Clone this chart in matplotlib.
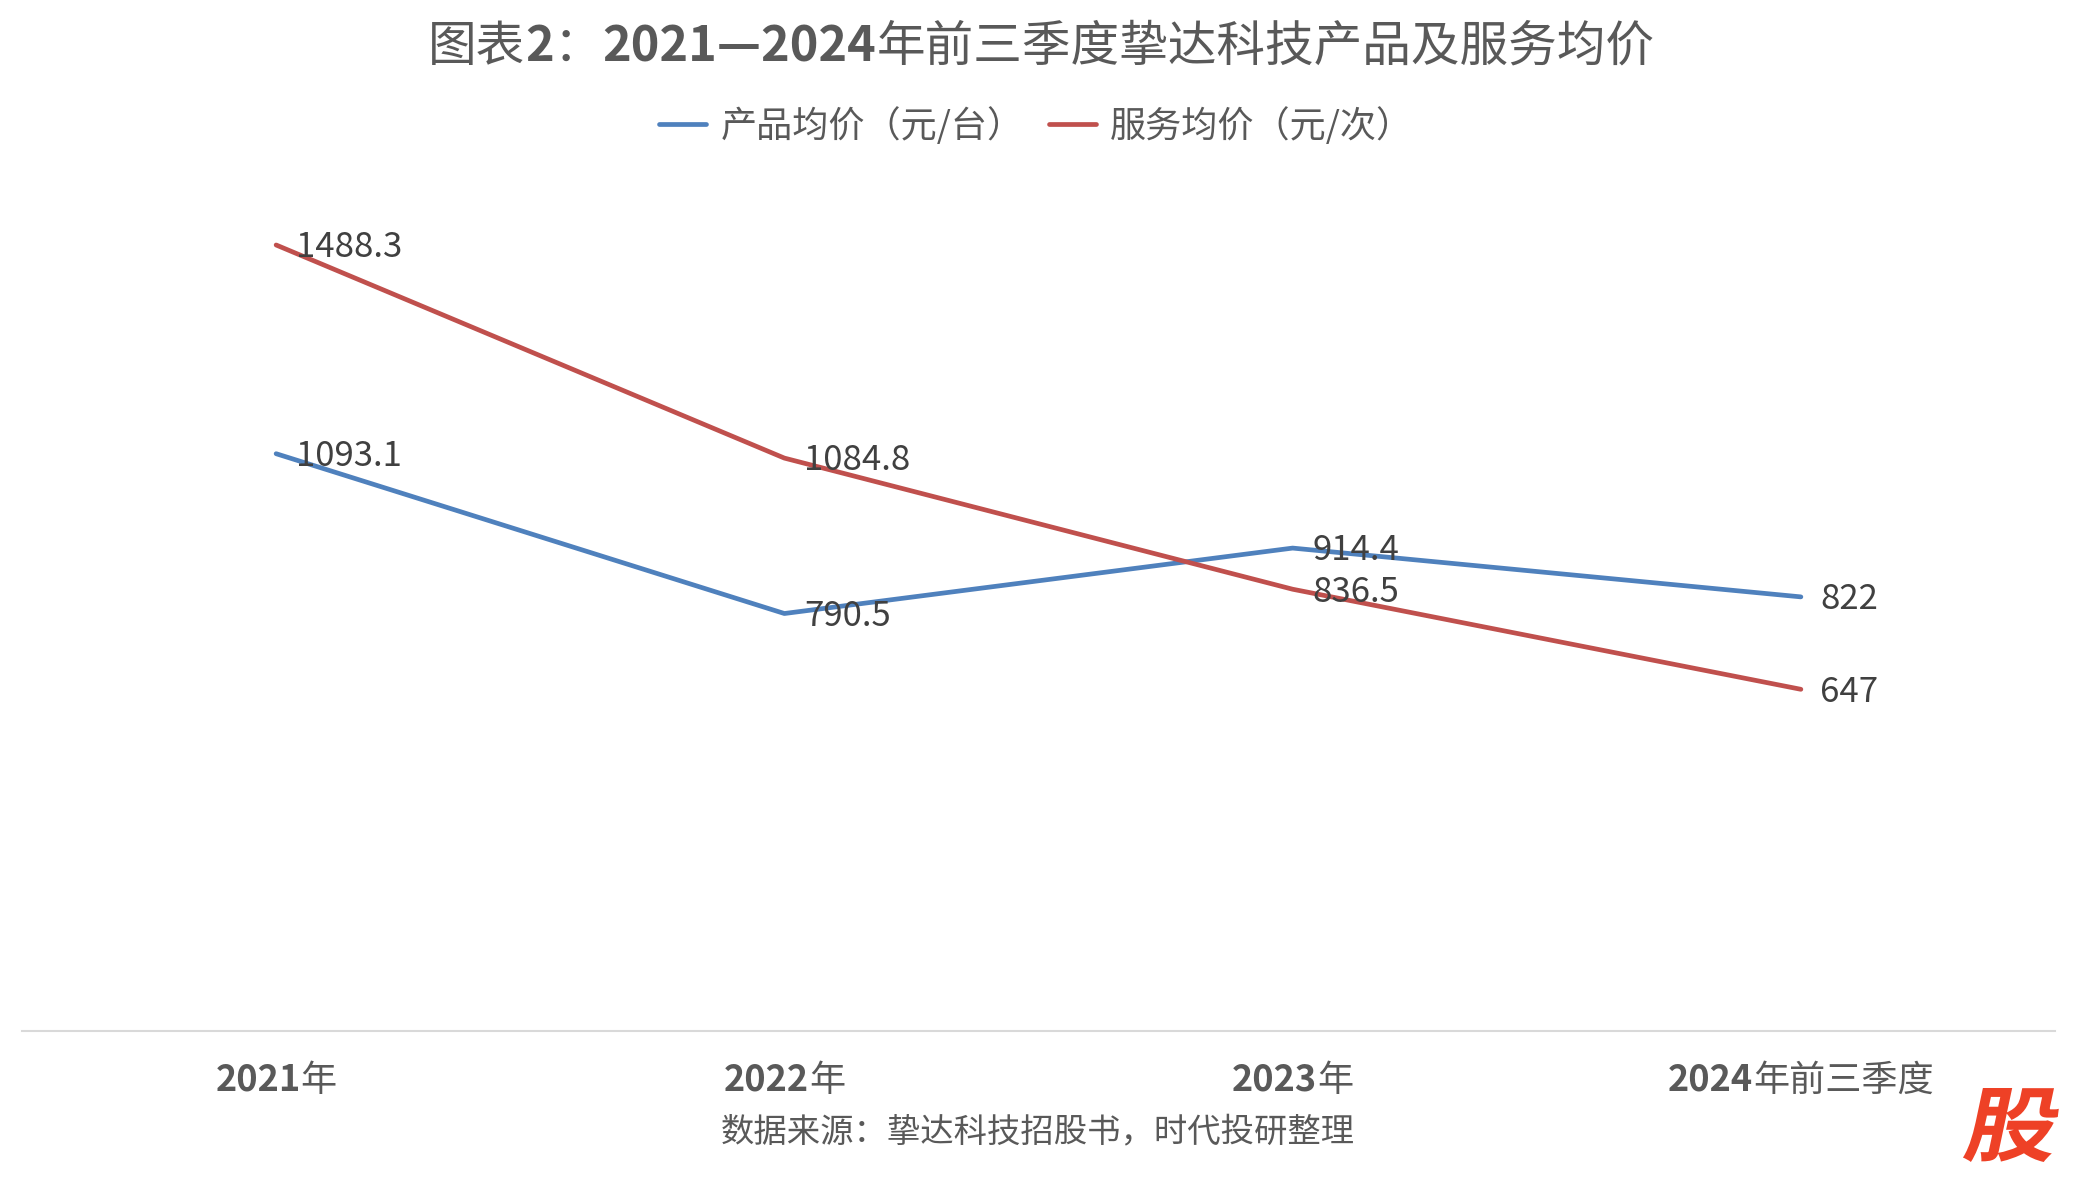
import matplotlib.pyplot as plt
import matplotlib.transforms as mtransforms
from matplotlib.offsetbox import TextArea, HPacker, AnnotationBbox
from matplotlib.textpath import TextPath
from matplotlib.patches import PathPatch
from matplotlib.font_manager import FontProperties

plt.rcParams['font.family'] = ['Noto Sans CJK SC', 'DejaVu Sans']

# données
periodes = ["2021", "2022", "2023", "2024"]
suffixes = ["年", "年", "年", "年前三季度"]
prix_produit = [1093.1, 790.5, 914.4, 822]
prix_service = [1488.3, 1084.8, 836.5, 647]
etiq_produit = ["1093.1", "790.5", "914.4", "822"]
etiq_service = ["1488.3", "1084.8", "836.5", "647"]
nom_produit = "产品均价（元/台）"
nom_service = "服务均价（元/次）"
titre = [("图表", "normal"), ("2", "bold"), ("：", "normal"),
         ("2021—2024", "bold"), ("年前三季度挚达科技产品及服务均价", "normal")]
source = "数据来源：挚达科技招股书，时代投研整理"

BLEU = "#4f81bd"
ROUGE = "#c0504d"
GRIS = "#595959"


def texte_mixte(parent, morceaux, xy, coords, taille, couleur):
    '''assemble des morceaux de texte de graisses differentes'''
    boites = [TextArea(s, textprops=dict(fontsize=taille, color=couleur, fontweight=w))
              for s, w in morceaux]
    pack = HPacker(children=boites, pad=0, sep=0, align="baseline")
    ab = AnnotationBbox(pack, xy, xycoords=coords, frameon=False,
                        box_alignment=(0.5, 0.5), pad=0)
    parent.add_artist(ab)


fig = plt.figure(figsize=(20.79, 11.8), dpi=100)
ax = fig.add_axes([22 / 2079, 1 - 1031 / 1180, (2055 - 22) / 2079, (1031 - 186) / 1180])

x = list(range(len(periodes)))
ax.plot(x, prix_produit, color=BLEU, lw=3.4, label=nom_produit, solid_capstyle="round")
ax.plot(x, prix_service, color=ROUGE, lw=3.4, label=nom_service, solid_capstyle="round")

for xi, v, t in zip(x, prix_produit, etiq_produit):
    ax.annotate(t, (xi, v), xytext=(14, -2), textcoords="offset points",
                ha="left", va="center", fontsize=25, color="#404040")
for xi, v, t in zip(x, prix_service, etiq_service):
    ax.annotate(t, (xi, v), xytext=(14, -2), textcoords="offset points",
                ha="left", va="center", fontsize=25, color="#404040")

ax.set_xlim(-0.5, 3.5)
ax.set_ylim(0, 1600)
ax.set_yticks([])
ax.set_xticks(x)
ax.set_xticklabels([])
ax.tick_params(axis="x", length=0)
for cote in ["top", "left", "right"]:
    ax.spines[cote].set_visible(False)
ax.spines["bottom"].set_color("#d9d9d9")
ax.spines["bottom"].set_linewidth(1.5)

# etiquettes de l'axe x
trans = mtransforms.blended_transform_factory(ax.transData, fig.transFigure)
for xi, p, s in zip(x, periodes, suffixes):
    texte_mixte(ax, [(p, "bold"), (s, "normal")], (xi, 1 - 1080 / 1180), trans, 26, GRIS)

# titre
texte_mixte(fig, titre, (1041 / 2079, 1 - 47 / 1180), fig.transFigure, 35, GRIS)

fig.legend(loc="center", bbox_to_anchor=(1036 / 2079, 1 - 126 / 1180), ncol=2,
           frameon=False, fontsize=26, labelcolor=GRIS, handlelength=1.3,
           handletextpad=0.4, columnspacing=0.7)

fig.text(1038 / 2079, 1 - 1132 / 1180, source, ha="center", va="center",
         fontsize=24, color=GRIS)

# logo penche en bas a droite
tp = TextPath((0, 0), "股", size=100,
              prop=FontProperties(family="Noto Sans CJK SC", weight="bold"))
bb = tp.get_extents()
tr = (mtransforms.Affine2D().translate(-bb.x0, -bb.y0)
      .scale(88 / bb.width, 74 / bb.height).skew_deg(12, 0)
      .translate(1962, 1180 - 1162))
fig.add_artist(PathPatch(tr.transform_path(tp), transform=mtransforms.IdentityTransform(),
                         facecolor="#ee4126", edgecolor="none"))

fig.savefig("out.png", dpi=100)
